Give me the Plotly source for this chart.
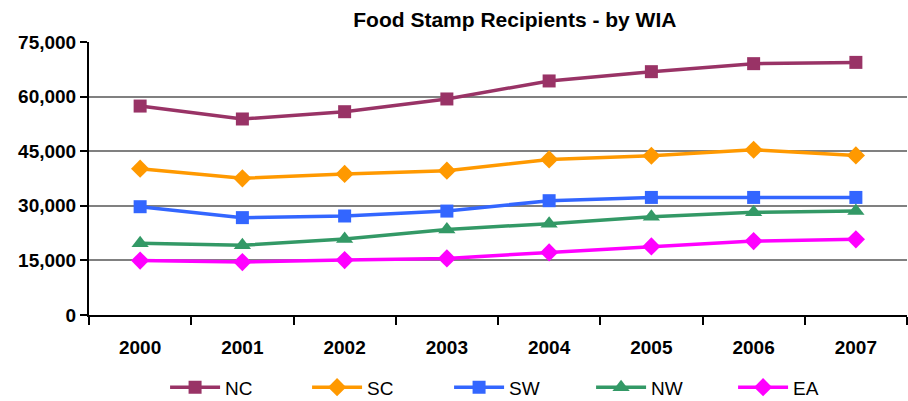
import plotly.graph_objects as go

years = ["2000", "2001", "2002", "2003", "2004", "2005", "2006", "2007"]
nc = [57400, 53850, 55850, 59350, 64300, 66850, 69050, 69400]
sc = [40200, 37550, 38750, 39650, 42750, 43750, 45400, 43850]
sw = [29750, 26750, 27200, 28550, 31400, 32300, 32300, 32300]
nw = [19700, 19150, 20900, 23500, 25100, 27000, 28200, 28550]
ea = [14950, 14550, 15100, 15550, 17200, 18850, 20300, 20800]

series = [
    ("NC", nc, "#993366", "square", 13),
    ("SC", sc, "#FF9900", "diamond", 14),
    ("SW", sw, "#3366FF", "square", 13),
    ("NW", nw, "#339966", "triangle-up", 15),
    ("EA", ea, "#FF00FF", "diamond", 14),
]

fig = go.Figure()
for name, vals, color, sym, msize in series:
    fig.add_trace(go.Scatter(
        x=years, y=vals, name=name, mode="lines+markers",
        line=dict(color=color, width=3.5),
        marker=dict(symbol=sym, size=msize, color=color),
    ))

fig.update_layout(
    width=908, height=401,
    margin=dict(l=89, r=1, t=42, b=86, autoexpand=False),
    paper_bgcolor="white", plot_bgcolor="white",
    font=dict(family="Liberation Sans, Arial, sans-serif", color="black"),
    title=dict(text="<b>Food Stamp Recipients - by WIA</b>", x=0.567, xanchor="center",
               y=0.95, yanchor="middle", font=dict(size=21, color="black")),
    showlegend=True,
    legend=dict(orientation="h", x=0.093, xanchor="left", y=-0.265, yanchor="middle",
                font=dict(size=19), entrywidth=77, itemwidth=50,
                bgcolor="rgba(0,0,0,0)"),
)
fig.update_xaxes(
    type="category", range=[-0.5, 7.5], tickson="boundaries", automargin=False,
    ticks="outside", ticklen=8, tickwidth=2, tickcolor="black",
    showline=True, linecolor="black", linewidth=2,
    showgrid=False, tickfont=dict(size=19, family="Liberation Sans, Arial, sans-serif"),
    tickprefix="<b>", ticksuffix="</b>", ticklabelstandoff=14,
)
fig.update_yaxes(
    range=[0, 75000], dtick=15000, tickformat=",", automargin=False,
    ticks="outside", ticklen=7, tickwidth=2, tickcolor="black",
    showline=True, linecolor="black", linewidth=2,
    showgrid=True, gridcolor="#808080", gridwidth=1.5,
    zeroline=False,
    tickfont=dict(size=19), tickprefix="<b>", ticksuffix="</b>",
)

fig.write_html("out.html", config={"displayModeBar": False},
               post_script="document.body.style.margin='0';document.body.style.overflow='hidden';")
